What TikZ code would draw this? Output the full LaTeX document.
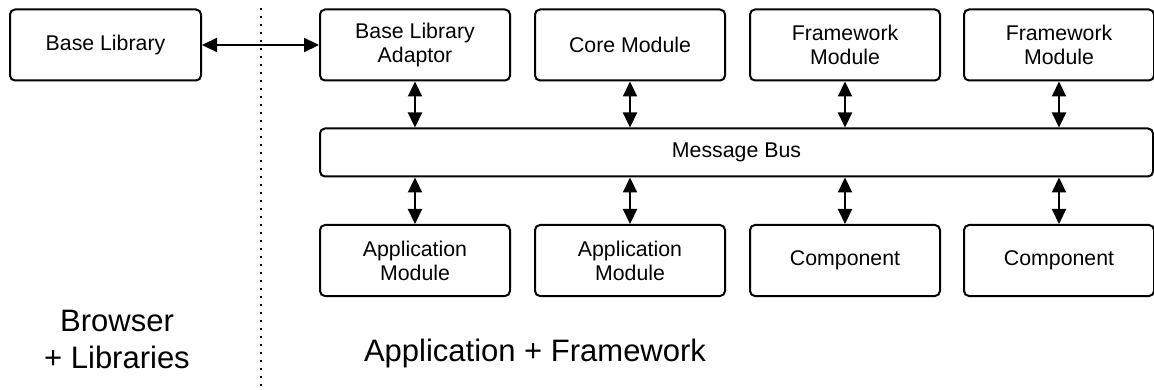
\documentclass[tikz,border=0pt]{standalone}
\usepackage{fontspec}
\setmainfont{Liberation Sans}
\usetikzlibrary{arrows.meta}
\tikzset{
  box/.style={draw, line width=2pt, rounded corners=5pt, minimum width=190pt, minimum height=71pt, align=center, font=\fontsize{21.3}{24}\selectfont, inner sep=0pt},
  bus/.style={draw, line width=2pt, rounded corners=5pt, minimum width=833pt, minimum height=48pt, font=\fontsize{21.3}{24}\selectfont, inner sep=0pt},
  link/.style={line width=2.2pt, {Triangle[length=15pt,width=14pt]}-{Triangle[length=15pt,width=14pt]}},
  biglabel/.style={align=center, font=\fontsize{31}{37}\selectfont, inner sep=0pt}
}
\begin{document}
\begin{tikzpicture}[x=1pt,y=-1pt]
\useasboundingbox (0,0) rectangle (1154,390);
\node[box, minimum width=191pt] (base) at (105.5,45) {Base Library};
\node[box] (adaptor) at (415,45) {Base Library\\Adaptor};
\node[box] (core) at (630,45) {Core Module};
\node[box] (fw1) at (845,45) {Framework\\Module};
\node[box] (fw2) at (1059,45) {Framework\\Module};
\node[bus] (bus) at (736.5,152.5) {Message Bus};
\node[box] (app1) at (415,260.5) {Application\\Module};
\node[box] (app2) at (630,260.5) {Application\\Module};
\node[box] (comp1) at (845,260.5) {Component};
\node[box] (comp2) at (1059,260.5) {Component};
\coordinate (dtop) at (261,8);
\coordinate (dbot) at (261,390);
\draw[line width=2pt, dash pattern=on 2pt off 6pt] (dtop) -- (dbot);
\draw[link] (base.east) -- (adaptor.west);
\foreach \n in {adaptor,core,fw1,fw2} {
  \draw[link] (\n.south) -- (\n.south |- bus.north);
}
\foreach \n in {app1,app2,comp1,comp2} {
  \draw[link] (\n.north |- bus.south) -- (\n.north);
}
\node[biglabel] (browser) at (117,339) {Browser\\+ Libraries};
\node[biglabel] (appfw) at (535,353) {Application + Framework};
\end{tikzpicture}
\end{document}
